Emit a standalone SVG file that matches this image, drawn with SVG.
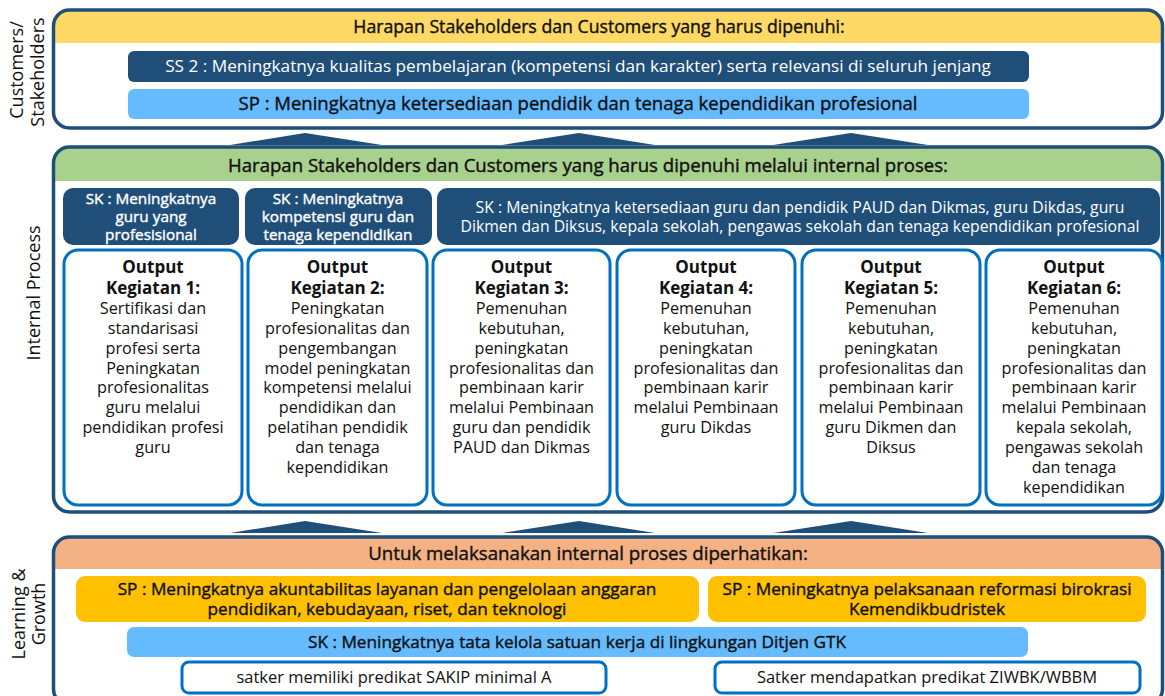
<svg xmlns="http://www.w3.org/2000/svg" width="1165" height="696" viewBox="0 0 1165 696">
<defs>
<style>
text{font-family:"Open Sans","Noto Sans","Liberation Sans",sans-serif;text-anchor:middle;}
.panel{fill:none;stroke:#1F4E79;stroke-width:3.5;}
.side{font-size:18px;fill:#111;}
.med{stroke-width:0.4px;}
.hdr{font-size:17.7px;fill:#111;stroke:#111;}
.dk{fill:#1F4E79;}
.lb{fill:#66BBFF;}
.yl{fill:#FFC000;}
.wt{fill:#fff;stroke:#fff;font-size:15.3px;}
.wt3{fill:#fff;font-size:15.5px;}
.out{fill:#fff;stroke:#0070C0;stroke-width:3;}
.ot{font-size:17px;font-weight:700;fill:#111;}
.body{font-size:16.2px;fill:#111;}
.mid{font-size:17.2px;fill:#111;stroke:#111;}
.small{font-size:16.5px;fill:#111;}
.tri{fill:#1F4E79;}
</style>
<clipPath id="c1"><rect x="53.5" y="10" width="1109" height="118" rx="16"/></clipPath>
<clipPath id="c2"><rect x="53.5" y="147" width="1109" height="365" rx="16"/></clipPath>
<clipPath id="c3"><rect x="53.5" y="537" width="1109" height="168" rx="16"/></clipPath>
</defs>

<g id="side-labels">
<text class="side" transform="translate(23,70) rotate(-90)">Customers/</text>
<text class="side" transform="translate(44,72) rotate(-90)">Stakeholders</text>
<text class="side" transform="translate(40,293) rotate(-90)">Internal Process</text>
<text class="side" transform="translate(25,614) rotate(-90)">Learning &amp;</text>
<text class="side" transform="translate(45,614) rotate(-90)">Growth</text>
</g>

<g id="panel-customers">
<rect x="53.5" y="10" width="1109" height="118" rx="16" fill="#fff"/>
<rect x="50" y="8" width="1115" height="35" fill="#FFD966" clip-path="url(#c1)"/>
<rect class="panel" x="53.5" y="10" width="1109" height="118" rx="16"/>
<text class="hdr med" x="599" y="33">Harapan Stakeholders dan Customers yang harus dipenuhi:</text>
<g id="ss2">
<rect class="dk" x="128" y="51" width="901" height="31" rx="6"/>
<text x="578" y="72" style="fill:#fff;font-size:17.2px">SS 2 : Meningkatnya kualitas pembelajaran (kompetensi dan karakter) serta relevansi di seluruh jenjang</text>
</g>
<g id="sp-top">
<rect class="lb" x="128" y="89" width="901" height="30" rx="6"/>
<text class="med" x="578" y="110" style="font-size:18.5px;fill:#111;stroke:#111">SP : Meningkatnya ketersediaan pendidik dan tenaga kependidikan profesional</text>
</g>
</g>

<g id="connectors">
<polygon class="tri" points="230,145 305,133 382,145"/>
<polygon class="tri" points="502,145 579,133 655,145"/>
<polygon class="tri" points="773,145 851,133 928,145"/>
<polygon class="tri" points="230,533 305,521 382,533"/>
<polygon class="tri" points="502,533 579,521 655,533"/>
<polygon class="tri" points="773,533 851,521 928,533"/>
</g>

<g id="panel-internal">
<rect x="53.5" y="147" width="1109" height="365" rx="16" fill="#fff"/>
<rect x="50" y="145" width="1115" height="36" fill="#A9D18E" clip-path="url(#c2)"/>
<rect class="panel" x="53.5" y="147" width="1109" height="365" rx="16"/>
<text class="hdr med" x="588" y="172" style="font-size:18px" textLength="720" lengthAdjust="spacingAndGlyphs">Harapan Stakeholders dan Customers yang harus dipenuhi melalui internal proses:</text>

<g id="sk1">
<rect class="dk" x="63" y="188" width="176" height="57" rx="10"/>
<text class="wt med" x="151" y="204">SK : Meningkatnya</text>
<text class="wt med" x="151" y="222">guru yang</text>
<text class="wt med" x="151" y="240">profesisional</text>
</g>
<g id="sk2">
<rect class="dk" x="245" y="188" width="187" height="57" rx="10"/>
<text class="wt med" x="338" y="204">SK : Meningkatnya</text>
<text class="wt med" x="338" y="222">kompetensi guru dan</text>
<text class="wt med" x="338" y="240">tenaga kependidikan</text>
</g>
<g id="sk3">
<rect class="dk" x="437" y="188" width="723" height="57" rx="10"/>
<text class="wt3" x="800" y="213" textLength="649" lengthAdjust="spacingAndGlyphs">SK : Meningkatnya ketersediaan guru dan pendidik PAUD dan Dikmas, guru Dikdas, guru</text>
<text class="wt3" x="800" y="232" textLength="679" lengthAdjust="spacingAndGlyphs">Dikmen dan Diksus, kepala sekolah, pengawas sekolah dan tenaga kependidikan profesional</text>
</g>

<g id="out1">
<rect class="out" x="64" y="250" width="178" height="255" rx="14"/>
<text class="ot" x="153" y="273">Output</text>
<text class="ot" x="153" y="294">Kegiatan 1:</text>
<text class="body" x="153" y="314">Sertifikasi dan</text>
<text class="body" x="153" y="334">standarisasi</text>
<text class="body" x="153" y="354">profesi serta</text>
<text class="body" x="153" y="374">Peningkatan</text>
<text class="body" x="153" y="393">profesionalitas</text>
<text class="body" x="153" y="413">guru melalui</text>
<text class="body" x="153" y="433">pendidikan profesi</text>
<text class="body" x="153" y="453">guru</text>
</g>
<g id="out2">
<rect class="out" x="248" y="250" width="179" height="255" rx="14"/>
<text class="ot" x="337.5" y="273">Output</text>
<text class="ot" x="337.5" y="294">Kegiatan 2:</text>
<text class="body" x="337.5" y="314">Peningkatan</text>
<text class="body" x="337.5" y="334">profesionalitas dan</text>
<text class="body" x="337.5" y="354">pengembangan</text>
<text class="body" x="337.5" y="374">model peningkatan</text>
<text class="body" x="337.5" y="393">kompetensi melalui</text>
<text class="body" x="337.5" y="413">pendidikan dan</text>
<text class="body" x="337.5" y="433">pelatihan pendidik</text>
<text class="body" x="337.5" y="453">dan tenaga</text>
<text class="body" x="337.5" y="473">kependidikan</text>
</g>
<g id="out3">
<rect class="out" x="433" y="250" width="177" height="255" rx="14"/>
<text class="ot" x="521.5" y="273">Output</text>
<text class="ot" x="521.5" y="294">Kegiatan 3:</text>
<text class="body" x="521.5" y="314">Pemenuhan</text>
<text class="body" x="521.5" y="334">kebutuhan,</text>
<text class="body" x="521.5" y="354">peningkatan</text>
<text class="body" x="521.5" y="374">profesionalitas dan</text>
<text class="body" x="521.5" y="393">pembinaan karir</text>
<text class="body" x="521.5" y="413">melalui Pembinaan</text>
<text class="body" x="521.5" y="433">guru dan pendidik</text>
<text class="body" x="521.5" y="453">PAUD dan Dikmas</text>
</g>
<g id="out4">
<rect class="out" x="617" y="250" width="178" height="255" rx="14"/>
<text class="ot" x="706" y="273">Output</text>
<text class="ot" x="706" y="294">Kegiatan 4:</text>
<text class="body" x="706" y="314">Pemenuhan</text>
<text class="body" x="706" y="334">kebutuhan,</text>
<text class="body" x="706" y="354">peningkatan</text>
<text class="body" x="706" y="374">profesionalitas dan</text>
<text class="body" x="706" y="393">pembinaan karir</text>
<text class="body" x="706" y="413">melalui Pembinaan</text>
<text class="body" x="706" y="433">guru Dikdas</text>
</g>
<g id="out5">
<rect class="out" x="802" y="250" width="178" height="255" rx="14"/>
<text class="ot" x="891" y="273">Output</text>
<text class="ot" x="891" y="294">Kegiatan 5:</text>
<text class="body" x="891" y="314">Pemenuhan</text>
<text class="body" x="891" y="334">kebutuhan,</text>
<text class="body" x="891" y="354">peningkatan</text>
<text class="body" x="891" y="374">profesionalitas dan</text>
<text class="body" x="891" y="393">pembinaan karir</text>
<text class="body" x="891" y="413">melalui Pembinaan</text>
<text class="body" x="891" y="433">guru Dikmen dan</text>
<text class="body" x="891" y="453">Diksus</text>
</g>
<g id="out6">
<rect class="out" x="986" y="250" width="176" height="255" rx="14"/>
<text class="ot" x="1074" y="273">Output</text>
<text class="ot" x="1074" y="294">Kegiatan 6:</text>
<text class="body" x="1074" y="314">Pemenuhan</text>
<text class="body" x="1074" y="334">kebutuhan,</text>
<text class="body" x="1074" y="354">peningkatan</text>
<text class="body" x="1074" y="374">profesionalitas dan</text>
<text class="body" x="1074" y="393">pembinaan karir</text>
<text class="body" x="1074" y="413">melalui Pembinaan</text>
<text class="body" x="1074" y="433">kepala sekolah,</text>
<text class="body" x="1074" y="453">pengawas sekolah</text>
<text class="body" x="1074" y="473">dan tenaga</text>
<text class="body" x="1074" y="493">kependidikan</text>
</g>
</g>

<g id="panel-learning">
<rect x="53.5" y="537" width="1109" height="168" rx="16" fill="#fff"/>
<rect x="50" y="535" width="1115" height="34" fill="#F4B183" clip-path="url(#c3)"/>
<rect class="panel" x="53.5" y="537" width="1109" height="168" rx="16"/>
<text class="hdr med" x="588" y="560" style="font-size:18.7px">Untuk melaksanakan internal proses diperhatikan:</text>
<g id="sp-left">
<rect class="yl" x="76" y="576" width="623" height="46" rx="9"/>
<text class="mid med" x="387" y="595">SP : Meningkatnya akuntabilitas layanan dan pengelolaan anggaran</text>
<text class="mid med" x="387" y="615">pendidikan, kebudayaan, riset, dan teknologi</text>
</g>
<g id="sp-right">
<rect class="yl" x="708" y="576" width="438" height="46" rx="9"/>
<text class="mid med" x="927" y="595">SP : Meningkatnya pelaksanaan reformasi birokrasi</text>
<text class="mid med" x="927" y="615">Kemendikbudristek</text>
</g>
<g id="sk-bottom">
<rect class="lb" x="127" y="627" width="901" height="30" rx="7"/>
<text class="mid med" x="577" y="648">SK : Meningkatnya tata kelola satuan kerja di lingkungan Ditjen GTK</text>
</g>
<g id="ind1">
<rect x="182" y="662" width="424" height="31" rx="7" fill="#fff" stroke="#0070C0" stroke-width="3"/>
<text class="small" x="394" y="683">satker memiliki predikat SAKIP minimal A</text>
</g>
<g id="ind2">
<rect x="715" y="662" width="425" height="31" rx="7" fill="#fff" stroke="#0070C0" stroke-width="3"/>
<text class="small" x="927" y="683">Satker mendapatkan predikat ZIWBK/WBBM</text>
</g>
</g>
</svg>
